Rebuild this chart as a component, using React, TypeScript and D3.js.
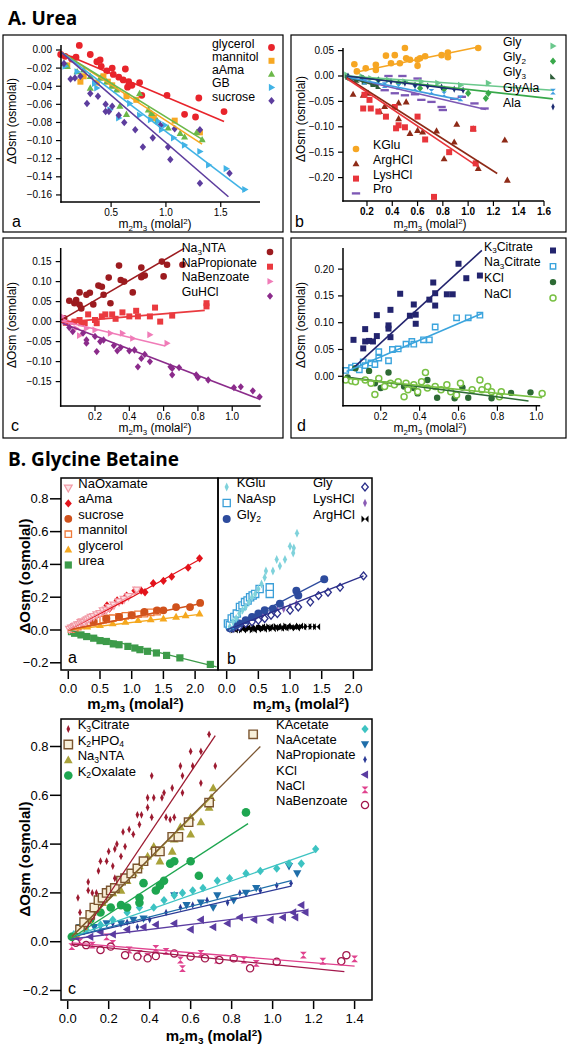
import React from "react";
import * as d3 from "d3";

type Pt = [number, number];

// ================= A. Urea — panel a =================
const uaGlycerol: Pt[] = [[0.04,-0.005],[0.08,-0.007],[0.14,-0.010],[0.18,-0.008],[0.21,0.005],[0.31,-0.005],[0.37,-0.013],[0.40,-0.011],[0.41,-0.018],[0.46,-0.023],[0.51,-0.020],[0.52,-0.027],[0.57,-0.030],[0.61,-0.033],[0.63,-0.021],[0.65,-0.041],[0.66,-0.035],[0.69,-0.039],[0.76,-0.036],[0.78,-0.050],[1.01,-0.050],[1.17,-0.071],[1.27,-0.074],[1.30,-0.053],[1.53,-0.068]];
const uaGlycerolFit: Pt[] = [[0.05,-0.003],[1.53,-0.079]];
const uaMannitol: Pt[] = [[0.10,-0.017],[0.22,-0.035],[0.25,-0.029],[0.37,-0.036],[0.43,-0.029],[0.47,-0.035],[0.51,-0.039],[0.64,-0.051],[0.73,-0.055],[0.87,-0.072],[0.89,-0.075],[1.08,-0.078],[1.31,-0.091]];
const uaMannitolFit: Pt[] = [[0.05,-0.003],[1.33,-0.104]];
const uaAama: Pt[] = [[0.07,-0.015],[0.10,-0.018],[0.19,-0.024],[0.25,-0.022],[0.31,-0.029],[0.31,-0.042],[0.40,-0.031],[0.46,-0.035],[0.51,-0.040],[0.55,-0.044],[0.58,-0.062],[0.64,-0.071],[0.76,-0.048],[0.84,-0.066],[0.87,-0.070],[0.92,-0.078],[1.02,-0.086],[1.13,-0.092],[1.17,-0.096],[1.28,-0.091],[1.33,-0.099]];
const uaAamaFit: Pt[] = [[0.05,-0.003],[1.35,-0.100]];
const uaGB: Pt[] = [[0.08,-0.018],[0.19,-0.024],[0.35,-0.037],[0.37,-0.042],[0.49,-0.066],[0.57,-0.075],[0.67,-0.059],[0.76,-0.072],[0.86,-0.077],[0.93,-0.079],[0.96,-0.088],[0.99,-0.083],[1.07,-0.097],[1.17,-0.105],[1.31,-0.112],[1.39,-0.127],[1.55,-0.131],[1.72,-0.154]];
const uaGBFit: Pt[] = [[0.05,-0.003],[1.72,-0.156]];
const uaSucrose: Pt[] = [[0.07,-0.015],[0.13,-0.032],[0.17,-0.031],[0.22,-0.029],[0.28,-0.059],[0.31,-0.048],[0.38,-0.051],[0.45,-0.068],[0.45,-0.060],[0.48,-0.068],[0.51,-0.062],[0.57,-0.072],[0.62,-0.080],[0.72,-0.088],[0.79,-0.107],[0.88,-0.097],[0.95,-0.083],[1.02,-0.107],[1.04,-0.121],[1.08,-0.087],[1.31,-0.088],[1.31,-0.147],[1.58,-0.136]];
const uaSucroseFit: Pt[] = [[0.05,-0.003],[1.57,-0.162]];
const uaXTicks = [0.5, 1.0, 1.5];
const uaYTicks = [0, -0.02, -0.04, -0.06, -0.08, -0.10, -0.12, -0.14, -0.16];

// ================= A. Urea — panel b =================
const ubKGlu: Pt[] = [[0.10,0.023],[0.12,0.009],[0.19,0.015],[0.27,0.022],[0.27,0.012],[0.35,0.040],[0.39,0.025],[0.42,0.041],[0.46,0.025],[0.50,0.055],[0.51,0.035],[0.54,0.032],[0.60,0.032],[0.60,0.020],[0.62,0.035],[0.66,0.039],[0.79,0.041],[0.84,0.046],[0.84,0.037],[1.08,0.055]];
const ubKGluFit: Pt[] = [[0.10,0.007],[1.08,0.057]];
const ubArgHCl: Pt[] = [[0.09,-0.036],[0.17,-0.038],[0.21,-0.034],[0.30,-0.070],[0.34,-0.060],[0.45,-0.053],[0.45,-0.084],[0.51,-0.051],[0.54,-0.113],[0.60,-0.107],[0.64,-0.110],[0.75,-0.108],[0.81,-0.163],[0.89,-0.130],[0.91,-0.095],[1.04,-0.104],[1.08,-0.182],[1.29,-0.126],[1.31,-0.205]];
const ubArgHClFit: Pt[] = [[0.04,-0.003],[1.23,-0.192]];
const ubLysHCl: Pt[] = [[0.17,-0.064],[0.18,-0.037],[0.22,-0.047],[0.23,-0.064],[0.29,-0.070],[0.35,-0.080],[0.42,-0.061],[0.43,-0.103],[0.45,-0.097],[0.50,-0.101],[0.60,-0.080],[0.66,-0.125],[0.73,-0.238],[0.85,-0.150],[1.04,-0.104],[1.06,-0.172]];
const ubLysHClFit: Pt[] = [[0.04,-0.005],[1.08,-0.179]];
const ubPro: Pt[] = [[0.10,-0.008],[0.18,-0.005],[0.26,-0.018],[0.34,-0.028],[0.37,0.000],[0.42,-0.034],[0.48,0.000],[0.50,-0.038],[0.58,-0.036],[0.60,-0.005],[0.63,-0.047],[0.71,-0.051],[0.79,-0.061],[0.80,-0.067],[0.89,-0.045],[0.95,-0.041],[1.05,-0.054],[1.13,-0.064]];
const ubProFit: Pt[] = [[0.04,-0.002],[1.14,-0.066]];
const ubGly: Pt[] = [[0.04,0.002],[0.16,-0.001],[0.23,-0.005],[0.37,-0.008],[0.50,-0.011],[0.63,-0.011],[0.76,-0.014],[0.94,-0.018],[1.16,-0.014]];
const ubGlyFit: Pt[] = [[0.04,0.0],[1.67,-0.028]];
const ubGly2: Pt[] = [[0.05,-0.003],[0.17,-0.005],[0.29,-0.008],[0.45,-0.014],[0.62,-0.024],[0.81,-0.026],[1.00,-0.034],[1.14,-0.044],[1.16,-0.034]];
const ubGly2Fit: Pt[] = [[0.04,0.0],[1.67,-0.045]];
const ubGly3: Pt[] = [[0.05,-0.002],[0.12,-0.008],[0.18,-0.011],[0.25,-0.016],[0.29,-0.020]];
const ubGly3Fit: Pt[] = [[0.04,-0.002],[0.29,-0.020]];
const ubGlyAla: Pt[] = [[0.08,-0.005],[0.18,-0.011],[0.34,-0.018],[0.45,-0.021],[0.58,-0.024],[0.71,-0.031],[0.81,-0.036],[0.94,-0.044]];
const ubGlyAlaFit: Pt[] = [[0.04,-0.002],[0.94,-0.047]];
const ubAla: Pt[] = [[0.05,0.000],[0.16,-0.005],[0.29,-0.008],[0.39,-0.011],[0.50,-0.014],[0.58,-0.018],[0.68,-0.020],[0.79,-0.022],[0.89,-0.026],[0.96,-0.028]];
const ubAlaFit: Pt[] = [[0.04,0.0],[0.96,-0.028]];
const ubXTicks = [0.2, 0.4, 0.6, 0.8, 1.0, 1.2, 1.4, 1.6];
const ubYTicks = [0.05, 0, -0.05, -0.10, -0.15, -0.20];

// ================= A. Urea — panel c =================
const ucNa3NTA: Pt[] = [[0.02,0.008],[0.05,0.052],[0.08,0.046],[0.09,0.054],[0.11,0.073],[0.11,0.042],[0.12,0.033],[0.15,0.067],[0.17,0.072],[0.19,0.043],[0.22,0.090],[0.24,0.087],[0.25,0.067],[0.28,0.110],[0.29,0.046],[0.34,0.140],[0.35,0.104],[0.37,0.100],[0.42,0.073],[0.47,0.111],[0.47,0.135],[0.49,0.115],[0.59,0.150],[0.60,0.113],[0.62,0.142],[0.71,0.142]];
const ucNa3NTAFit: Pt[] = [[0.02,0.008],[0.72,0.183]];
const ucNaPropionate: Pt[] = [[0.03,-0.003],[0.08,0.000],[0.11,0.004],[0.12,-0.004],[0.14,-0.004],[0.16,0.018],[0.20,0.004],[0.21,-0.004],[0.24,0.013],[0.26,0.018],[0.30,0.018],[0.32,0.007],[0.36,0.023],[0.40,0.013],[0.44,0.027],[0.45,0.013],[0.52,0.013],[0.55,0.035],[0.58,0.000],[0.65,0.015],[0.85,0.046],[0.85,0.038]];
const ucNaPropionateFit: Pt[] = [[0.0,-0.002],[0.84,0.028]];
const ucNaBenzoate: Pt[] = [[0.01,0.013],[0.03,0.000],[0.06,-0.004],[0.09,-0.017],[0.11,-0.035],[0.15,-0.017],[0.20,-0.021],[0.29,-0.029],[0.36,-0.029],[0.42,-0.042],[0.52,-0.033],[0.62,-0.054]];
const ucNaBenzoateFit: Pt[] = [[0.0,0.002],[0.61,-0.061]];
const ucGuHCl: Pt[] = [[0.05,-0.015],[0.07,-0.025],[0.13,-0.029],[0.15,-0.046],[0.15,-0.054],[0.20,-0.037],[0.21,-0.075],[0.23,-0.050],[0.25,-0.046],[0.31,-0.060],[0.33,-0.073],[0.35,-0.065],[0.40,-0.073],[0.43,-0.071],[0.45,-0.113],[0.47,-0.092],[0.49,-0.082],[0.52,-0.100],[0.64,-0.113],[0.65,-0.133],[0.65,-0.117],[0.69,-0.115],[0.79,-0.133],[0.80,-0.140],[0.86,-0.146],[1.01,-0.165],[1.05,-0.163],[1.12,-0.173],[1.16,-0.188]];
const ucGuHClFit: Pt[] = [[0.01,-0.004],[1.16,-0.194]];
const ucXTicks = [0.2, 0.4, 0.6, 0.8, 1.0];
const ucYTicks = [0.15, 0.10, 0.05, 0, -0.05, -0.10, -0.15];

// ================= A. Urea — panel d =================
const udK3Citrate: Pt[] = [[0.06,0.068],[0.11,0.052],[0.12,0.065],[0.12,0.088],[0.14,0.066],[0.16,0.065],[0.18,0.075],[0.18,0.114],[0.24,0.089],[0.24,0.095],[0.25,0.124],[0.25,0.073],[0.30,0.154],[0.35,0.113],[0.37,0.134],[0.38,0.098],[0.38,0.115],[0.45,0.143],[0.47,0.175],[0.48,0.155],[0.48,0.132],[0.54,0.153],[0.57,0.153],[0.60,0.210],[0.64,0.183],[0.71,0.188]];
const udK3CitrateFit: Pt[] = [[0.067,0.018],[0.72,0.235]];
const udNa3Citrate: Pt[] = [[0.02,0.011],[0.05,0.016],[0.07,0.019],[0.09,0.012],[0.11,0.027],[0.12,0.020],[0.15,0.025],[0.17,0.022],[0.19,0.046],[0.19,0.034],[0.24,0.029],[0.26,0.050],[0.29,0.051],[0.33,0.060],[0.36,0.065],[0.37,0.060],[0.42,0.068],[0.45,0.068],[0.48,0.092],[0.59,0.109],[0.65,0.109],[0.71,0.114]];
const udNa3CitrateFit: Pt[] = [[0.024,0.009],[0.72,0.117]];
const udKCl: Pt[] = [[0.03,-0.002],[0.07,0.015],[0.14,0.010],[0.17,-0.013],[0.20,-0.022],[0.24,0.007],[0.32,-0.019],[0.37,-0.022],[0.39,-0.032],[0.44,-0.007],[0.49,-0.040],[0.58,-0.041],[0.62,-0.021],[0.65,-0.040],[0.77,-0.041],[0.87,-0.031],[0.97,-0.030]];
const udKClFit: Pt[] = [[0.03,-0.002],[0.96,-0.046]];
const udNaCl: Pt[] = [[0.02,-0.007],[0.05,-0.009],[0.07,-0.010],[0.12,-0.007],[0.15,-0.013],[0.17,-0.034],[0.19,-0.004],[0.22,-0.019],[0.25,-0.013],[0.27,-0.016],[0.29,-0.010],[0.32,-0.038],[0.33,-0.013],[0.34,-0.025],[0.37,-0.016],[0.39,-0.029],[0.41,-0.010],[0.43,0.007],[0.44,-0.022],[0.48,-0.019],[0.51,-0.025],[0.54,-0.016],[0.56,-0.029],[0.59,-0.035],[0.61,-0.013],[0.67,-0.025],[0.71,-0.007],[0.72,-0.025],[0.75,-0.019],[0.77,-0.029],[0.81,-0.038],[0.82,-0.029],[1.03,-0.032]];
const udNaClFit: Pt[] = [[0.03,-0.004],[1.03,-0.040]];
const udXTicks = [0.2, 0.4, 0.6, 0.8, 1.0];
const udYTicks = [0.20, 0.15, 0.10, 0.05, 0];

// ================= B. Glycine Betaine — panel a =================
const gaNaOxamate: Pt[] = [[0.02,0.005],[0.05,0.012],[0.08,0.014],[0.10,0.022],[0.12,0.025],[0.15,0.032],[0.18,0.034],[0.20,0.045],[0.22,0.05],[0.25,0.046],[0.28,0.057],[0.30,0.062],[0.33,0.068],[0.36,0.078],[0.40,0.082],[0.45,0.093],[0.50,0.10],[0.55,0.118],[0.60,0.122],[0.65,0.138],[0.72,0.152],[0.80,0.172],[0.88,0.188],[0.95,0.205],[1.08,0.244]];
const gaNaOxamateFit: Pt[] = [[0.0,0.0],[1.1,0.235]];
const gaAama: Pt[] = [[0.05,0.012],[0.15,0.03],[0.25,0.052],[0.35,0.07],[0.45,0.092],[0.55,0.112],[0.61,0.15],[0.65,0.13],[0.77,0.18],[0.85,0.18],[0.92,0.21],[1.05,0.24],[1.15,0.24],[1.21,0.23],[1.34,0.285],[1.50,0.30],[1.63,0.325],[1.89,0.38],[2.07,0.437]];
const gaAamaFit: Pt[] = [[0.0,0.0],[1.0,0.2],[2.07,0.43]];
const gaSucrose: Pt[] = [[0.05,0.01],[0.2,0.03],[0.4,0.05],[0.6,0.07],[0.8,0.08],[1.0,0.09],[1.2,0.11],[1.4,0.12],[1.5,0.12],[1.7,0.14],[1.92,0.14],[2.08,0.165]];
const gaSucroseFit: Pt[] = [[0.0,0.0],[2.08,0.16]];
const gaMannitol: Pt[] = [[0.05,0.005],[0.1,0.012],[0.15,0.02],[0.2,0.028],[0.25,0.035],[0.3,0.04],[0.35,0.047],[0.4,0.05],[0.45,0.055],[0.5,0.058],[0.55,0.063],[0.6,0.065],[0.65,0.07],[0.7,0.072],[0.8,0.08],[0.9,0.086],[1.0,0.09],[1.1,0.096],[1.2,0.10],[1.3,0.108],[1.4,0.112]];
const gaMannitolFit: Pt[] = [[0.0,0.0],[1.45,0.11]];
const gaGlycerol: Pt[] = [[0.1,0.005],[0.3,0.02],[0.5,0.03],[0.7,0.04],[0.9,0.05],[1.1,0.06],[1.3,0.065],[1.5,0.07],[1.7,0.08],[1.85,0.09],[2.07,0.10]];
const gaGlycerolFit: Pt[] = [[0.0,0.0],[2.07,0.095]];
const gaUrea: Pt[] = [[0.05,-0.01],[0.1,-0.02],[0.2,-0.03],[0.29,-0.04],[0.4,-0.05],[0.5,-0.065],[0.6,-0.07],[0.71,-0.085],[0.8,-0.09],[0.94,-0.10],[1.05,-0.11],[1.13,-0.12],[1.25,-0.13],[1.39,-0.14],[1.55,-0.155],[1.76,-0.17],[2.24,-0.21]];
const gaUreaFit: Pt[] = [[0.0,0.0],[2.34,-0.225]];
const gaXTicks = [0.0, 0.5, 1.0, 1.5, 2.0];
const gbYTicks = [0.8, 0.6, 0.4, 0.2, 0.0, -0.2];

// ================= B. Glycine Betaine — panel b =================
const gbKGlu: Pt[] = [[0.05,0.02],[0.1,0.05],[0.15,0.07],[0.2,0.1],[0.25,0.12],[0.3,0.14],[0.35,0.17],[0.4,0.2],[0.45,0.22],[0.5,0.25],[0.55,0.28],[0.6,0.32],[0.62,0.36],[0.73,0.36],[0.79,0.43],[0.84,0.39],[0.92,0.43],[1.0,0.51],[1.05,0.47],[1.06,0.50],[1.11,0.59]];
const gbNaAsp: Pt[] = [[0.02,0.04],[0.05,0.03],[0.08,0.07],[0.12,0.08],[0.16,0.10],[0.21,0.14],[0.25,0.15],[0.29,0.17],[0.33,0.18],[0.37,0.20],[0.41,0.21],[0.45,0.22],[0.52,0.25],[0.68,0.26],[0.68,0.22]];
const gbGly2: Pt[] = [[0.05,0.01],[0.1,0.02],[0.15,0.03],[0.2,0.04],[0.3,0.06],[0.4,0.08],[0.5,0.10],[0.6,0.12],[0.73,0.13],[0.84,0.16],[1.1,0.24],[1.13,0.21],[1.54,0.31]];
const gbGly2Fit: Pt[] = [[0.0,0.0],[1.55,0.31]];
const gbGly: Pt[] = [[0.1,0.01],[0.2,0.02],[0.3,0.04],[0.4,0.05],[0.5,0.06],[0.6,0.07],[0.7,0.09],[0.8,0.10],[1.0,0.12],[1.13,0.14],[1.32,0.17],[1.45,0.21],[1.6,0.23],[1.79,0.26],[2.16,0.33]];
const gbGlyFit: Pt[] = [[0.0,0.0],[2.16,0.33]];
const gbLysHCl: Pt[] = [[0.05,0.005],[0.1,0.015],[0.15,0.02],[0.2,0.03],[0.25,0.04],[0.3,0.05],[0.35,0.06],[0.4,0.07],[0.45,0.075],[0.5,0.08],[0.55,0.09],[0.6,0.10],[0.7,0.11],[0.8,0.12],[0.9,0.13],[1.0,0.14],[1.1,0.16]];
const gbArgHCl: Pt[] = [[0.12,0.0],[0.15,0.01],[0.18,0.005],[0.22,0.012],[0.25,0.0],[0.28,0.01],[0.32,0.015],[0.35,0.005],[0.38,0.012],[0.42,0.0],[0.45,0.018],[0.48,0.008],[0.52,0.012],[0.55,0.02],[0.58,0.005],[0.62,0.015],[0.65,0.01],[0.68,0.02],[0.72,0.008],[0.75,0.015],[0.8,0.022],[0.85,0.01],[0.88,0.018],[0.92,0.012],[0.95,0.025],[1.0,0.015],[1.05,0.02],[1.1,0.012],[1.15,0.025],[1.2,0.018],[1.28,0.022],[1.35,0.02],[1.42,0.02]];

// ================= B. Glycine Betaine — panel c =================
const gcK3Citrate: Pt[] = [[0.05,0.18],[0.06,0.12],[0.10,0.21],[0.10,0.245],[0.12,0.20],[0.15,0.29],[0.14,0.20],[0.16,0.33],[0.19,0.33],[0.20,0.37],[0.22,0.31],[0.23,0.38],[0.24,0.40],[0.23,0.26],[0.26,0.35],[0.27,0.45],[0.28,0.39],[0.30,0.46],[0.32,0.44],[0.34,0.52],[0.35,0.48],[0.36,0.52],[0.39,0.55],[0.39,0.59],[0.41,0.68],[0.41,0.51],[0.42,0.59],[0.46,0.59],[0.47,0.61],[0.48,0.51],[0.50,0.50],[0.51,0.63],[0.52,0.51],[0.55,0.72],[0.56,0.68],[0.56,0.61],[0.60,0.78],[0.61,0.72],[0.65,0.78],[0.65,0.65],[0.69,0.85],[0.72,0.72]];
const gcK3CitrateFit: Pt[] = [[0.085,0.048],[0.72,0.845]];
const gcK2HPO4: Pt[] = [[0.06,0.05],[0.08,0.08],[0.11,0.11],[0.13,0.14],[0.15,0.17],[0.17,0.18],[0.19,0.20],[0.21,0.21],[0.23,0.22],[0.26,0.25],[0.28,0.26],[0.31,0.28],[0.34,0.30],[0.37,0.33],[0.43,0.37],[0.45,0.37],[0.51,0.43],[0.54,0.43],[0.59,0.49],[0.69,0.57],[0.905,0.85]];
const gcK2HPO4Fit: Pt[] = [[0.02,0.02],[0.94,0.80]];
const gcNa3NTA: Pt[] = [[0.04,0.03],[0.08,0.06],[0.10,0.09],[0.12,0.12],[0.14,0.14],[0.17,0.16],[0.19,0.19],[0.22,0.20],[0.26,0.21],[0.29,0.25],[0.32,0.28],[0.35,0.31],[0.39,0.35],[0.42,0.39],[0.44,0.37],[0.45,0.33],[0.51,0.37],[0.52,0.42],[0.55,0.47],[0.60,0.44],[0.60,0.51],[0.65,0.49],[0.69,0.55],[0.71,0.63],[0.70,0.59]];
const gcNa3NTAFit: Pt[] = [[0.02,0.02],[0.71,0.60]];
const gcK2Oxalate: Pt[] = [[0.02,0.02],[0.07,0.06],[0.11,0.09],[0.16,0.12],[0.21,0.14],[0.26,0.15],[0.29,0.14],[0.35,0.16],[0.35,0.18],[0.37,0.24],[0.43,0.21],[0.45,0.23],[0.47,0.25],[0.50,0.32],[0.52,0.33],[0.60,0.33],[0.64,0.27],[0.87,0.53]];
const gcK2OxalateFit: Pt[] = [[0.01,0.01],[0.88,0.484]];
const gcKAcetate: Pt[] = [[0.03,0.03],[0.09,0.05],[0.16,0.07],[0.22,0.09],[0.29,0.12],[0.35,0.14],[0.42,0.14],[0.47,0.17],[0.52,0.19],[0.56,0.20],[0.61,0.21],[0.66,0.22],[0.73,0.25],[0.79,0.26],[0.87,0.28],[0.94,0.29],[1.02,0.30],[1.08,0.32],[1.14,0.32],[1.21,0.38]];
const gcKAcetateFit: Pt[] = [[0.02,0.02],[1.21,0.37]];
const gcNaAcetate: Pt[] = [[0.06,0.06],[0.13,0.06],[0.19,0.075],[0.26,0.075],[0.32,0.09],[0.37,0.095],[0.52,0.19],[0.58,0.15],[0.65,0.16],[0.71,0.14],[0.73,0.19],[0.81,0.17],[0.87,0.20],[0.92,0.22],[1.08,0.31],[1.12,0.28]];
const gcNaAcetateFit: Pt[] = [[0.02,0.02],[1.09,0.25]];
const gcNaPropionate: Pt[] = [[0.03,0.02],[0.09,0.05],[0.16,0.06],[0.22,0.075],[0.29,0.08],[0.34,0.06],[0.40,0.09],[0.48,0.12],[0.55,0.14],[0.61,0.15],[0.68,0.17],[0.78,0.16],[0.84,0.20],[0.94,0.21],[1.02,0.23],[1.09,0.24]];
const gcNaPropionateFit: Pt[] = [[0.02,0.02],[1.09,0.228]];
const gcKCl: Pt[] = [[0.04,0.02],[0.11,0.02],[0.16,0.04],[0.22,0.03],[0.29,0.05],[0.37,0.06],[0.43,0.07],[0.52,0.075],[0.60,0.05],[0.65,0.09],[0.71,0.06],[0.78,0.075],[0.84,0.10],[0.91,0.09],[0.99,0.09],[1.05,0.10],[1.10,0.12],[1.11,0.10],[1.14,0.15],[1.16,0.12]];
const gcKClFit: Pt[] = [[0.01,0.01],[1.17,0.13]];
const gcNaCl: Pt[] = [[0.02,-0.02],[0.06,0.0],[0.12,-0.014],[0.19,0.02],[0.22,-0.007],[0.30,-0.034],[0.35,-0.048],[0.39,-0.06],[0.43,-0.027],[0.48,-0.04],[0.55,-0.075],[0.56,-0.11],[0.65,-0.048],[0.73,-0.075],[0.81,-0.068],[0.86,-0.075],[0.92,-0.089],[1.15,-0.055],[1.245,-0.08],[1.40,-0.07]];
const gcNaClFit: Pt[] = [[0.02,-0.005],[1.40,-0.10]];
const gcNaBenzoate: Pt[] = [[0.04,-0.004],[0.09,-0.014],[0.16,-0.034],[0.21,-0.02],[0.28,-0.055],[0.34,-0.061],[0.39,-0.068],[0.43,-0.059],[0.52,-0.048],[0.60,-0.061],[0.67,-0.068],[0.74,-0.075],[0.81,-0.068],[0.89,-0.109],[1.02,-0.082],[1.335,-0.08],[1.36,-0.055]];
const gcNaBenzoateFit: Pt[] = [[0.02,-0.01],[1.35,-0.123]];
const gcXTicks = [0.0, 0.2, 0.4, 0.6, 0.8, 1.0, 1.2, 1.4];
const gcYTicks = [0.8, 0.6, 0.4, 0.2, 0.0, -0.2];

// ================= rendering =================
const SANS = "'Liberation Sans', Arial, Helvetica, sans-serif";
const TITLE = "'Open Sans', 'Liberation Sans', sans-serif";

interface S {
  label: string; data: Pt[]; fit?: Pt[]; color: string; shape: string; r: number;
  open?: boolean; fill?: string; lineColor?: string; lw?: number; sw?: number;
}

function shapePath(shape: string, r: number): string {
  const f = (n: number) => n.toFixed(2);
  switch (shape) {
    case "circle": return `M${f(r)},0A${f(r)},${f(r)} 0 1,1 ${f(-r)},0A${f(r)},${f(r)} 0 1,1 ${f(r)},0Z`;
    case "square": return `M${f(-r)},${f(-r)}H${f(r)}V${f(r)}H${f(-r)}Z`;
    case "triUp": return `M0,${f(-r * 1.2)}L${f(r * 1.15)},${f(r * 0.85)}H${f(-r * 1.15)}Z`;
    case "triDown": return `M0,${f(r * 1.2)}L${f(r * 1.15)},${f(-r * 0.85)}H${f(-r * 1.15)}Z`;
    case "triRight": return `M${f(r * 1.2)},0L${f(-r * 0.85)},${f(r * 1.15)}V${f(-r * 1.15)}Z`;
    case "triLeft": return `M${f(-r * 1.2)},0L${f(r * 0.85)},${f(r * 1.15)}V${f(-r * 1.15)}Z`;
    case "diamond": return `M0,${f(-r * 1.3)}L${f(r * 1.1)},0L0,${f(r * 1.3)}L${f(-r * 1.1)},0Z`;
    case "thinDiamond": return `M0,${f(-r * 1.5)}L${f(r * 0.7)},0L0,${f(r * 1.5)}L${f(-r * 0.7)},0Z`;
    case "hourglass": return `M${f(-r)},${f(-r)}H${f(r)}L${f(-r)},${f(r)}H${f(r)}Z`;
    case "bowtie": return `M${f(-r)},${f(-r)}V${f(r)}L${f(r)},${f(-r)}V${f(r)}Z`;
    case "dash": return `M${f(-r * 1.6)},${f(-r * 0.45)}H${f(r * 1.6)}V${f(r * 0.45)}H${f(-r * 1.6)}Z`;
    case "corner": return `M${f(-r)},${f(-r)}L${f(r)},${f(r)}H${f(-r)}Z`;
    default: return "";
  }
}

function Mark({ s, x, y }: { s: S; x: number; y: number }) {
  return (
    <path
      d={shapePath(s.shape, s.r)}
      transform={`translate(${x.toFixed(2)},${y.toFixed(2)})`}
      fill={s.open ? (s.fill || "white") : s.color}
      stroke={s.open ? s.color : "none"}
      strokeWidth={s.open ? (s.sw || 1.2) : 0}
    />
  );
}

function Rich({ text, fs }: { text: string; fs: number }) {
  const parts = text.split(/(_\{[^}]*\}|\^\{[^}]*\})/).filter((p) => p.length > 0);
  let cur = 0;
  const out = parts.map((p, i) => {
    let shift = 0, size = fs, s = p;
    if (p.startsWith("_{")) { shift = fs * 0.22; size = fs * 0.66; s = p.slice(2, -1); }
    else if (p.startsWith("^{")) { shift = -fs * 0.36; size = fs * 0.66; s = p.slice(2, -1); }
    const dy = shift - cur;
    cur = shift;
    return <tspan key={i} dy={dy} fontSize={size}>{s}</tspan>;
  });
  return <>{out}</>;
}

interface Legend { items: S[]; textX: number; markX: number; y0: number; dy: number; fs: number; }

interface PanelCfg {
  id: string; kind: "A" | "B";
  box: [number, number, number, number];
  xDom: [number, number]; xRng: [number, number];
  yDom: [number, number]; yRng: [number, number];
  xTicks: number[]; yTicks: number[]; xFmt: string; yFmt: string;
  xBold?: boolean; showY?: boolean;
  series: S[]; legends: Legend[];
  letter: [string, number, number];
  xTitle: [number, number]; yTitle?: [number, number];
}

function Panel({ c }: { c: PanelCfg }) {
  const xs = d3.scaleLinear().domain(c.xDom).range(c.xRng);
  const ys = d3.scaleLinear().domain(c.yDom).range(c.yRng);
  const [bx, by, bw, bh] = c.box;
  const line = d3.line<Pt>().x((d) => xs(d[0])).y((d) => ys(d[1]));
  const xf = d3.format(c.xFmt), yf = d3.format(c.yFmt);
  const A = c.kind === "A";
  const axX = A ? c.xRng[0] : bx;
  const axY = A ? c.yRng[0] : by + bh;
  const tickFs = A ? 10 : 13;
  const titleFs = A ? 12 : 15;
  const clipId = `clip-${c.id}`;
  const clip = A
    ? { x: bx + 1, y: by + 1, w: bw - 2, h: bh - 2 }
    : { x: bx, y: by, w: bw, h: bh };
  return (
    <g fontFamily={SANS}>
      <defs>
        <clipPath id={clipId}>
          <rect x={clip.x} y={clip.y} width={clip.w} height={clip.h} />
        </clipPath>
      </defs>
      <g clipPath={`url(#${clipId})`}>
        {c.series.map((s, i) => (
          <g key={"p" + i}>
            {s.data.map((d, j) => <Mark key={j} s={s} x={xs(d[0])} y={ys(d[1])} />)}
          </g>
        ))}
        {c.series.map((s, i) =>
          s.fit ? (
            <path key={"f" + i} d={line(s.fit) || ""} fill="none" stroke={s.lineColor || s.color} strokeWidth={s.lw || (A ? 1.6 : 1.3)} />
          ) : null
        )}
      </g>
      <rect x={bx} y={by} width={bw} height={bh} fill="none" stroke="#000" strokeWidth={A ? 1.2 : 1.5} />
      {A && (
        <g stroke="#000" strokeWidth={1.5}>
          <line x1={axX} x2={axX} y1={c.yRng[1]} y2={axY + 0.75} />
          <line x1={axX - 0.75} x2={c.xRng[1]} y1={axY} y2={axY} />
        </g>
      )}
      {c.showY !== false && c.yTicks.map((t, i) => {
        const y = ys(t);
        const len = A ? 5 : 11;
        return (
          <g key={"yt" + i}>
            <line x1={axX - len} x2={axX} y1={y} y2={y} stroke="#000" strokeWidth={A ? 1.2 : 1.5} />
            <text x={axX - len - (A ? 4 : 1.5)} y={y} dy="0.35em" textAnchor="end" fontSize={tickFs} fill="#000">{yf(t)}</text>
          </g>
        );
      })}
      {c.xTicks.map((t, i) => {
        const x = xs(t);
        const y0 = A ? axY : axY + 1;
        const len = A ? 5 : 8;
        return (
          <g key={"xt" + i}>
            <line x1={x} x2={x} y1={y0} y2={y0 + len} stroke="#000" strokeWidth={A ? 1.2 : 1.5} />
            <text x={x} y={A ? axY + 14 : axY + 22.5} textAnchor="middle" fontSize={tickFs} fontWeight={c.xBold ? "bold" : "normal"} fill="#000">{xf(t)}</text>
          </g>
        );
      })}
      <text x={c.xTitle[0]} y={c.xTitle[1]} textAnchor="middle" fontSize={titleFs} fontWeight={A ? "normal" : "bold"} fill="#000">
        <Rich text={"m_{2}m_{3} (molal^{2})"} fs={titleFs} />
      </text>
      {c.yTitle && (
        <text transform={`translate(${c.yTitle[0]},${c.yTitle[1]}) rotate(-90)`} textAnchor="middle" dy="0.35em" fontSize={titleFs} fontWeight={A ? "normal" : "bold"} fill="#000">
          ΔOsm (osmolal)
        </text>
      )}
      <text x={c.letter[1]} y={c.letter[2]} fontSize={16} fill="#000">{c.letter[0]}</text>
      {c.legends.map((lg, li) => (
        <g key={"lg" + li}>
          {lg.items.map((s, i) => {
            const y = lg.y0 + i * lg.dy;
            return (
              <g key={i}>
                <Mark s={s} x={lg.markX} y={y} />
                <text x={lg.textX} y={y} dy="0.36em" fontSize={lg.fs} fill="#000">
                  <Rich text={s.label} fs={lg.fs} />
                </text>
              </g>
            );
          })}
        </g>
      ))}
    </g>
  );
}

// ---------- series styles ----------
const sUaGlycerol: S = { label: "glycerol", data: uaGlycerol, fit: uaGlycerolFit, color: "#e8242b", shape: "circle", r: 3.4 };
const sUaMannitol: S = { label: "mannitol", data: uaMannitol, fit: uaMannitolFit, color: "#f7a823", shape: "square", r: 3.0 };
const sUaAama: S = { label: "aAma", data: uaAama, fit: uaAamaFit, color: "#6cb84a", shape: "triUp", r: 3.1 };
const sUaGB: S = { label: "GB", data: uaGB, fit: uaGBFit, color: "#41b3e6", shape: "triRight", r: 3.1 };
const sUaSucrose: S = { label: "sucrose", data: uaSucrose, fit: uaSucroseFit, color: "#5d3d9e", shape: "diamond", r: 2.9 };

const sUbKGlu: S = { label: "KGlu", data: ubKGlu, fit: ubKGluFit, color: "#f6a623", shape: "circle", r: 3.3 };
const sUbArg: S = { label: "ArgHCl", data: ubArgHCl, fit: ubArgHClFit, color: "#8e2a17", shape: "triUp", r: 3.0 };
const sUbLys: S = { label: "LysHCl", data: ubLysHCl, fit: ubLysHClFit, color: "#e8353b", shape: "square", r: 3.0 };
const sUbPro: S = { label: "Pro", data: ubPro, fit: ubProFit, color: "#7d58b5", shape: "dash", r: 2.6 };
const sUbGly: S = { label: "Gly", data: ubGly, fit: ubGlyFit, color: "#6ac88c", shape: "triRight", r: 3.0 };
const sUbGly2: S = { label: "Gly_{2}", data: ubGly2, fit: ubGly2Fit, color: "#38a84a", shape: "diamond", r: 2.8 };
const sUbGly3: S = { label: "Gly_{3}", data: ubGly3, fit: ubGly3Fit, color: "#2f5e3a", shape: "corner", r: 2.8 };
const sUbGlyAla: S = { label: "GlyAla", data: ubGlyAla, fit: ubGlyAlaFit, color: "#3f9ee0", shape: "hourglass", r: 2.8 };
const sUbAla: S = { label: "Ala", data: ubAla, fit: ubAlaFit, color: "#1d2c72", shape: "thinDiamond", r: 2.4 };

const sUcNTA: S = { label: "Na_{3}NTA", data: ucNa3NTA, fit: ucNa3NTAFit, color: "#9c1b1f", shape: "circle", r: 3.3 };
const sUcProp: S = { label: "NaPropionate", data: ucNaPropionate, fit: ucNaPropionateFit, color: "#ea3a3f", shape: "square", r: 3.0 };
const sUcBenz: S = { label: "NaBenzoate", data: ucNaBenzoate, fit: ucNaBenzoateFit, color: "#f07cb8", shape: "triRight", r: 3.0 };
const sUcGu: S = { label: "GuHCl", data: ucGuHCl, fit: ucGuHClFit, color: "#8b2b8b", shape: "diamond", r: 2.8 };

const sUdK3: S = { label: "K_{3}Citrate", data: udK3Citrate, fit: udK3CitrateFit, color: "#23246e", shape: "square", r: 3.0 };
const sUdNa3: S = { label: "Na_{3}Citrate", data: udNa3Citrate, fit: udNa3CitrateFit, color: "#3ba4dd", shape: "square", r: 2.7, open: true, sw: 1.4 };
const sUdKCl: S = { label: "KCl", data: udKCl, fit: udKClFit, color: "#2d6a34", shape: "circle", r: 3.2 };
const sUdNaCl: S = { label: "NaCl", data: udNaCl, fit: udNaClFit, color: "#78c043", shape: "circle", r: 3.0, open: true, sw: 1.5 };

const sGaOx: S = { label: "NaOxamate", data: gaNaOxamate, fit: gaNaOxamateFit, color: "#f29aa6", shape: "triDown", r: 3.4, open: true, fill: "#fbe3e6", lineColor: "#f29aa6" };
const sGaAama: S = { label: "aAma", data: gaAama, fit: gaAamaFit, color: "#e3131b", shape: "diamond", r: 3.2 };
const sGaSuc: S = { label: "sucrose", data: gaSucrose, fit: gaSucroseFit, color: "#d0521c", shape: "circle", r: 3.9 };
const sGaMan: S = { label: "mannitol", data: gaMannitol, fit: gaMannitolFit, color: "#ef7a3a", shape: "square", r: 3.2, open: true, sw: 1.3 };
const sGaGly: S = { label: "glycerol", data: gaGlycerol, fit: gaGlycerolFit, color: "#f5a81f", shape: "triUp", r: 3.4 };
const sGaUrea: S = { label: "urea", data: gaUrea, fit: gaUreaFit, color: "#3d9b4a", shape: "square", r: 3.6 };

const sGbKGlu: S = { label: "KGlu", data: gbKGlu, color: "#7fd2db", shape: "thinDiamond", r: 3.0 };
const sGbNaAsp: S = { label: "NaAsp", data: gbNaAsp, color: "#3b9fd8", shape: "square", r: 3.6, open: true, sw: 1.3 };
const sGbGly2: S = { label: "Gly_{2}", data: gbGly2, fit: gbGly2Fit, color: "#2d4b9d", shape: "circle", r: 4.0 };
const sGbGly: S = { label: "Gly", data: gbGly, fit: gbGlyFit, color: "#2b2f8a", shape: "diamond", r: 3.0, open: true, sw: 1.3 };
const sGbLys: S = { label: "LysHCl", data: gbLysHCl, color: "#8a5bb5", shape: "thinDiamond", r: 2.8 };
const sGbArg: S = { label: "ArgHCl", data: gbArgHCl, color: "#000000", shape: "bowtie", r: 3.5 };

const sGcK3: S = { label: "K_{3}Citrate", data: gcK3Citrate, fit: gcK3CitrateFit, color: "#9c1a30", shape: "thinDiamond", r: 2.6 };
const sGcHPO4: S = { label: "K_{2}HPO_{4}", data: gcK2HPO4, fit: gcK2HPO4Fit, color: "#7b5530", shape: "square", r: 4.2, open: true, fill: "#f8efd9", sw: 1.4 };
const sGcNTA: S = { label: "Na_{3}NTA", data: gcNa3NTA, fit: gcNa3NTAFit, color: "#a9a23a", shape: "triUp", r: 3.8 };
const sGcOx: S = { label: "K_{2}Oxalate", data: gcK2Oxalate, fit: gcK2OxalateFit, color: "#1ea650", shape: "circle", r: 4.3 };
const sGcKAc: S = { label: "KAcetate", data: gcKAcetate, fit: gcKAcetateFit, color: "#3dc3c2", shape: "diamond", r: 3.3 };
const sGcNaAc: S = { label: "NaAcetate", data: gcNaAcetate, fit: gcNaAcetateFit, color: "#1f6ea9", shape: "triDown", r: 3.6 };
const sGcProp: S = { label: "NaPropionate", data: gcNaPropionate, fit: gcNaPropionateFit, color: "#2b3a96", shape: "thinDiamond", r: 2.5 };
const sGcKCl: S = { label: "KCl", data: gcKCl, fit: gcKClFit, color: "#5b3ca1", shape: "triLeft", r: 3.6 };
const sGcNaCl: S = { label: "NaCl", data: gcNaCl, fit: gcNaClFit, color: "#e0428e", shape: "hourglass", r: 3.4 };
const sGcBenz: S = { label: "NaBenzoate", data: gcNaBenzoate, fit: gcNaBenzoateFit, color: "#a3174c", shape: "circle", r: 3.6, open: true, sw: 1.3 };

const panels: PanelCfg[] = [
  {
    id: "ua", kind: "A", box: [3, 35, 280, 197],
    xDom: [0.043, 1.858], xRng: [61, 260], yDom: [-0.1678, 0.0055], yRng: [202, 45],
    xTicks: uaXTicks, yTicks: uaYTicks, xFmt: ".1f", yFmt: ".2f",
    series: [sUaGlycerol, sUaMannitol, sUaAama, sUaGB, sUaSucrose],
    legends: [{ items: [sUaGlycerol, sUaMannitol, sUaAama, sUaGB, sUaSucrose], textX: 212, markX: 271.5, y0: 47.5, dy: 13.3, fs: 12.3 }],
    letter: ["a", 12, 227], xTitle: [155, 228], yTitle: [12, 121],
  },
  {
    id: "ub", kind: "A", box: [291, 35, 275, 197],
    xDom: [0.0103, 1.6], xRng: [343, 544], yDom: [-0.2461, 0.0551], yRng: [201, 48],
    xTicks: ubXTicks, yTicks: ubYTicks, xFmt: ".1f", yFmt: ".2f", xBold: true,
    series: [sUbPro, sUbGly, sUbGly2, sUbGly3, sUbGlyAla, sUbAla, sUbKGlu, sUbArg, sUbLys],
    legends: [
      { items: [sUbGly, sUbGly2, sUbGly3, sUbGlyAla, sUbAla], textX: 503, markX: 553, y0: 46, dy: 15.2, fs: 12.3 },
      { items: [sUbKGlu, sUbArg, sUbLys, sUbPro], textX: 373, markX: 356, y0: 149, dy: 14.8, fs: 12.3 },
    ],
    letter: ["b", 295, 227], xTitle: [430, 228], yTitle: [300.5, 119],
  },
  {
    id: "uc", kind: "A", box: [3, 238, 280, 200],
    xDom: [0, 1.166], xRng: [60.7, 260.7], yDom: [-0.211, 0.184], yRng: [406, 248],
    xTicks: ucXTicks, yTicks: ucYTicks, xFmt: ".1f", yFmt: ".2f",
    series: [sUcNTA, sUcProp, sUcBenz, sUcGu],
    legends: [{ items: [sUcNTA, sUcProp, sUcBenz, sUcGu], textX: 181.7, markX: 270, y0: 252, dy: 14.7, fs: 12.3 }],
    letter: ["c", 11, 431], xTitle: [155, 432], yTitle: [12, 325],
  },
  {
    id: "ud", kind: "A", box: [291, 238, 275, 200],
    xDom: [0.006, 1.02], xRng: [343, 540.2], yDom: [-0.0551, 0.2394], yRng: [405.8, 248],
    xTicks: udXTicks, yTicks: udYTicks, xFmt: ".1f", yFmt: ".2f",
    series: [sUdK3, sUdNa3, sUdKCl, sUdNaCl],
    legends: [{ items: [sUdK3, sUdNa3, sUdKCl, sUdNaCl], textX: 484, markX: 553, y0: 250.5, dy: 15.8, fs: 12.3 }],
    letter: ["d", 297, 431], xTitle: [430, 432], yTitle: [300.5, 325],
  },
  {
    id: "ga", kind: "B", box: [61, 478, 157, 192],
    xDom: [-0.115, 2.361], xRng: [61, 218], yDom: [-0.244, 0.927], yRng: [670, 478],
    xTicks: gaXTicks, yTicks: gbYTicks, xFmt: ".1f", yFmt: ".1f",
    series: [sGaUrea, sGaGly, sGaMan, sGaSuc, sGaAama, sGaOx],
    legends: [{ items: [sGaOx, sGaAama, sGaSuc, sGaMan, sGaGly, sGaUrea], textX: 78.3, markX: 68.3, y0: 488, dy: 15.4, fs: 13 }],
    letter: ["a", 68, 663], xTitle: [135.5, 709], yTitle: [25, 576],
  },
  {
    id: "gb", kind: "B", box: [218, 478, 154, 192],
    xDom: [-0.137, 2.294], xRng: [218, 372], yDom: [-0.244, 0.927], yRng: [670, 478],
    xTicks: gaXTicks, yTicks: gbYTicks, xFmt: ".1f", yFmt: ".1f", showY: false,
    series: [sGbArg, sGbLys, sGbGly, sGbGly2, sGbNaAsp, sGbKGlu],
    legends: [
      { items: [sGbKGlu, sGbNaAsp, sGbGly2], textX: 236.7, markX: 226.7, y0: 487, dy: 16, fs: 13 },
      { items: [sGbGly, sGbLys, sGbArg], textX: 313, markX: 365, y0: 487, dy: 16, fs: 13 },
    ],
    letter: ["b", 227, 664], xTitle: [301, 709],
  },
  {
    id: "gc", kind: "B", box: [61, 719, 311, 281],
    xDom: [-0.0327, 1.4849], xRng: [61, 372], yDom: [-0.2389, 0.9127], yRng: [1000, 719],
    xTicks: gcXTicks, yTicks: gcYTicks, xFmt: ".1f", yFmt: ".1f",
    series: [sGcNaCl, sGcBenz, sGcKCl, sGcProp, sGcNaAc, sGcKAc, sGcOx, sGcNTA, sGcHPO4, sGcK3],
    legends: [
      { items: [sGcK3, sGcHPO4, sGcNTA, sGcOx], textX: 77.7, markX: 68.3, y0: 729, dy: 15.5, fs: 13 },
      { items: [sGcKAc, sGcNaAc, sGcProp, sGcKCl, sGcNaCl, sGcBenz], textX: 276, markX: 365, y0: 729, dy: 15.2, fs: 13 },
    ],
    letter: ["c", 68, 994], xTitle: [214, 1041], yTitle: [25, 859],
  },
];

export default function App() {
  return (
    <svg width={578} height={1049} viewBox="0 0 578 1049" style={{ position: "absolute", left: 0, top: 0, background: "#fff" }}>
      <rect x={0} y={0} width={578} height={1049} fill="#fff" />
      <text x={8} y={25} fontFamily={TITLE} fontWeight="bold" fontSize={19} fill="#000">A.  Urea</text>
      <text x={8} y={466} fontFamily={TITLE} fontWeight="bold" fontSize={19} fill="#000">B.  Glycine Betaine</text>
      {panels.map((p) => <Panel key={p.id} c={p} />)}
    </svg>
  );
}
